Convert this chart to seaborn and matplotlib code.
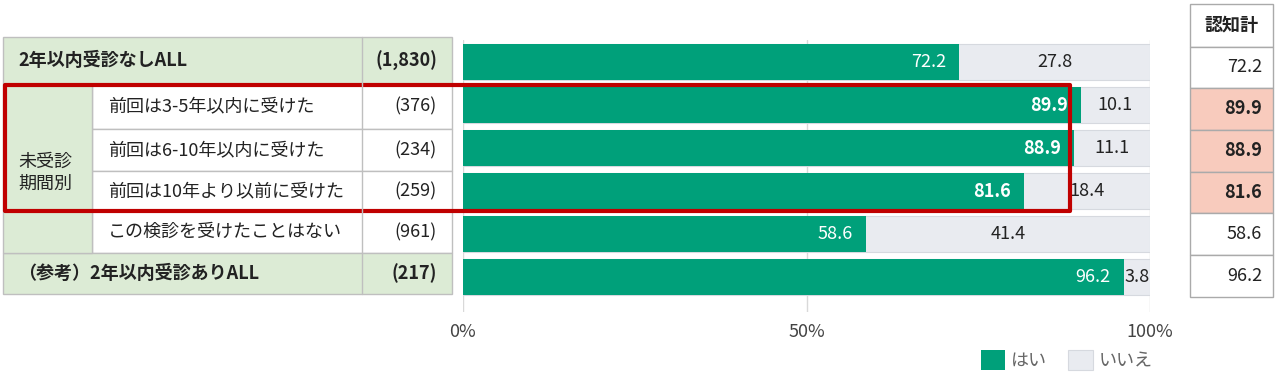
import matplotlib
matplotlib.use('Agg')
import seaborn as sns
import pandas as pd
import matplotlib.pyplot as plt
from matplotlib.patches import Rectangle

# data
groups = ['2年以内受診なしALL', '前回は3-5年以内に受けた', '前回は6-10年以内に受けた',
          '前回は10年より以前に受けた', 'この検診を受けたことはない', '（参考）2年以内受診ありALL']
n_labels = ['(1,830)', '(376)', '(234)', '(259)', '(961)', '(217)']
yes = [72.2, 89.9, 88.9, 81.6, 58.6, 96.2]
no = [27.8, 10.1, 11.1, 18.4, 41.4, 3.8]
aware = [72.2, 89.9, 88.9, 81.6, 58.6, 96.2]
group_label = '未受診\n期間別'
aware_header = '認知計'
highlight = [1, 2, 3]

df = pd.DataFrame({'group': groups, 'yes': yes, 'no': no})
df['total'] = df['yes'] + df['no']

sns.set_theme(style='white')
plt.rcParams['font.family'] = ['Noto Sans CJK JP', 'DejaVu Sans']

GREEN = '#00A07A'
GREY = '#E9EBF0'
TBL_GREEN = '#DCEBD5'
SALMON = '#F8CBBD'
LINE = '#BFBFBF'
FS = 13

fig = plt.figure(figsize=(12.8, 3.78), dpi=100)

# bar axes
ax = fig.add_axes([463 / 1280, 1 - 312 / 378, 687 / 1280, 272 / 378])
ax.patch.set_alpha(0)
sns.barplot(data=df, x='total', y='group', orient='h', color=GREY, width=0.84,
            saturation=1, edgecolor='#D6D9DF', linewidth=0.8, label='いいえ',
            ax=ax, zorder=2)
sns.barplot(data=df, x='yes', y='group', orient='h', color=GREEN, width=0.84,
            saturation=1, linewidth=0, label='はい', ax=ax, zorder=3)
ax.set_xlim(0, 100)
ax.set_ylim(5.814, -0.512)
ax.set_xticks([0, 50, 100])
ax.set_xticklabels(['0%', '50%', '100%'])
ax.set_yticks([])
ax.set_xlabel('')
ax.set_ylabel('')
ax.xaxis.grid(True, color='#D9D9D9', linewidth=1)
ax.set_axisbelow(True)
ax.tick_params(axis='x', length=0, pad=8, labelsize=FS, labelcolor='#444444')
for s in ax.spines.values():
    s.set_visible(False)

for i in range(len(groups)):
    bold = 'bold' if i in highlight else 'normal'
    ax.text(yes[i] - 1.9, i, f'{yes[i]:.1f}', ha='right', va='center', color='white',
            fontsize=FS, fontweight=bold, zorder=5)
    ax.text(yes[i] + no[i] / 2, i, f'{no[i]:.1f}', ha='center', va='center',
            color='#222222', fontsize=FS, zorder=5)

h, l = ax.get_legend_handles_labels()
ax.legend(h[::-1], l[::-1], loc='center left', bbox_to_anchor=(972 / 1280, 1 - 360 / 378),
          bbox_transform=fig.transFigure, frameon=False, ncol=2, fontsize=FS,
          handlelength=1.35, handleheight=1.35, handletextpad=0.3, columnspacing=1.2,
          borderpad=0, labelcolor='#666666')

# overlay in pixel coordinates for the tables and highlight box
ov = fig.add_axes([0, 0, 1, 1], zorder=10)
ov.set_xlim(0, 1280)
ov.set_ylim(378, 0)
ov.axis('off')
ov.patch.set_alpha(0)

# left table
edges = [37, 84, 129, 171, 211, 253, 294]
x0, xc1, xc2, x1 = 3, 92, 362, 452
for i in range(len(groups)):
    top, bot = edges[i], edges[i + 1]
    if i in (0, 5):
        ov.add_patch(Rectangle((x0, top), x1 - x0, bot - top, facecolor=TBL_GREEN,
                               edgecolor=LINE, lw=1))
        ov.plot([xc2, xc2], [top, bot], color=LINE, lw=1)
        ov.text(18, (top + bot) / 2, groups[i], ha='left', va='center',
                fontsize=FS, fontweight='bold', color='#222222')
        ov.text(437, (top + bot) / 2, n_labels[i], ha='right', va='center',
                fontsize=FS, fontweight='bold', color='#222222')
    else:
        ov.add_patch(Rectangle((xc1, top), x1 - xc1, bot - top, facecolor='white',
                               edgecolor=LINE, lw=1))
        ov.plot([xc2, xc2], [top, bot], color=LINE, lw=1)
        ov.text(108, (top + bot) / 2, groups[i], ha='left', va='center',
                fontsize=FS, color='#222222')
        ov.text(437, (top + bot) / 2, n_labels[i], ha='right', va='center',
                fontsize=FS, color='#222222')
ov.add_patch(Rectangle((x0, edges[1]), xc1 - x0, edges[5] - edges[1],
                       facecolor=TBL_GREEN, edgecolor=LINE, lw=1))
ov.text(18, 173, group_label, ha='left', va='center', fontsize=FS,
        color='#222222', linespacing=1.25)

# right table
r_edges = [4, 47, 88, 130, 172, 213, 255, 297]
rx0, rx1 = 1190, 1273
ov.add_patch(Rectangle((rx0, r_edges[0]), rx1 - rx0, r_edges[1] - r_edges[0],
                       facecolor='white', edgecolor='#AAAAAA', lw=1))
ov.text((rx0 + rx1) / 2, (r_edges[0] + r_edges[1]) / 2, aware_header, ha='center',
        va='center', fontsize=FS, fontweight='bold', color='#222222')
for i, v in enumerate(aware):
    top, bot = r_edges[i + 1], r_edges[i + 2]
    fc = SALMON if i in highlight else 'white'
    ov.add_patch(Rectangle((rx0, top), rx1 - rx0, bot - top, facecolor=fc,
                           edgecolor='#AAAAAA', lw=1))
    ov.text(1262, (top + bot) / 2, f'{v:.1f}', ha='right', va='center', fontsize=FS,
            fontweight='bold' if i in highlight else 'normal', color='#222222')

# red highlight box
ov.add_patch(Rectangle((5, 85), 1065, 126, facecolor='none', edgecolor='#C00000',
                       lw=3, joinstyle='round'))

fig.savefig('out.png', dpi=100)
